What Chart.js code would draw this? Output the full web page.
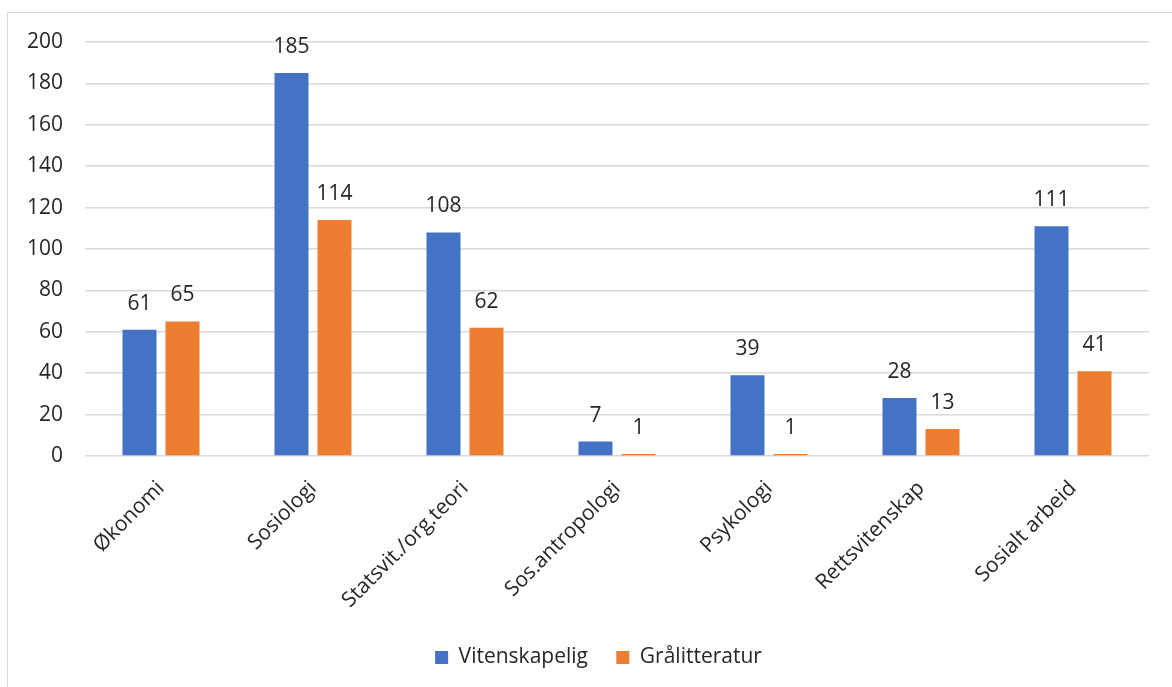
<!DOCTYPE html>
<html>
<head>
<meta charset="utf-8">
<script src="https://cdn.jsdelivr.net/npm/chart.js@4/dist/chart.umd.min.js"></script>
<style>
  body { margin: 0; background: #fff; overflow: hidden; }
  #box {
    position: absolute; left: 7px; top: 12px;
    width: 1180px; height: 690px;
    border: 1px solid #d9d9d9;
  }
</style>
</head>
<body>
<div id="box"><canvas id="myChart"></canvas></div>
<script>
const categories = ["Økonomi", "Sosiologi", "Statsvit./org.teori", "Sos.antropologi", "Psykologi", "Rettsvitenskap", "Sosialt arbeid"];
const vitenskapelig = [61, 185, 108, 7, 39, 28, 111];
const graalitteratur = [65, 114, 62, 1, 1, 13, 41];
const yTicks = [0, 20, 40, 60, 80, 100, 120, 140, 160, 180, 200];

const FONT = "'Open Sans', Lato, sans-serif";
const TEXT = "#262626";

// values above bars
const valueLabels = {
  id: "valueLabels",
  afterDatasetsDraw(chart) {
    const ctx = chart.ctx;
    ctx.save();
    ctx.font = "21px " + FONT;
    ctx.fillStyle = TEXT;
    ctx.textAlign = "center";
    ctx.textBaseline = "alphabetic";
    chart.data.datasets.forEach((ds, i) => {
      chart.getDatasetMeta(i).data.forEach((bar, j) => {
        ctx.fillText(ds.data[j], bar.x, bar.y - 20);
      });
    });
    ctx.restore();
  },
};

// center the legend on the whole canvas, not just the padded area
const legendShift = {
  id: "legendShift",
  afterLayout(chart) {
    chart.legend.left += 20;
    chart.legend.right += 20;
  },
};

const ctx = document.getElementById("myChart").getContext("2d");

new Chart(ctx, {
  type: "bar",
  data: {
    labels: categories,
    datasets: [
      {
        label: "Vitenskapelig",
        data: vitenskapelig,
        backgroundColor: "#4472C4",
        categoryPercentage: 0.566,
        barPercentage: 0.79,
      },
      {
        label: "Grålitteratur",
        data: graalitteratur,
        backgroundColor: "#ED7D31",
        categoryPercentage: 0.566,
        barPercentage: 0.79,
      },
    ],
  },
  options: {
    responsive: true,
    maintainAspectRatio: false,
    animation: false,
    layout: { padding: { left: 0, right: 39, top: 29, bottom: 25 } },
    plugins: {
      legend: {
        position: "bottom",
        labels: {
          font: { family: FONT, size: 21 },
          color: TEXT,
          boxWidth: 13,
          boxHeight: 13,
          padding: 12,
          generateLabels(chart) {
            const items = Chart.defaults.plugins.legend.labels.generateLabels(chart);
            items.forEach(it => { it.text = it.text + "   "; });
            items[items.length - 1].text = items[items.length - 1].text.trimEnd();
            return items;
          },
        },
      },
      tooltip: { enabled: false },
    },
    scales: {
      x: {
        grid: { display: false },
        border: { display: false },
        ticks: {
          font: { family: FONT, size: 21 },
          color: TEXT,
          maxRotation: 45,
          minRotation: 45,
          padding: 12,
        },
        afterFit(scale) { scale.height = 179; },
      },
      y: {
        min: 0,
        max: 200,
        afterBuildTicks(scale) { scale.ticks = yTicks.map(v => ({ value: v })); },
        grid: { color: "#d9d9d9", lineWidth: 1.5, tickColor: "transparent", tickLength: 18 },
        border: { display: false },
        ticks: {
          font: { family: FONT, size: 21 },
          color: TEXT,
          padding: 4,
        },
        afterFit(scale) { scale.width = 77; },
      },
    },
  },
  plugins: [valueLabels, legendShift],
});
</script>
</body>
</html>
